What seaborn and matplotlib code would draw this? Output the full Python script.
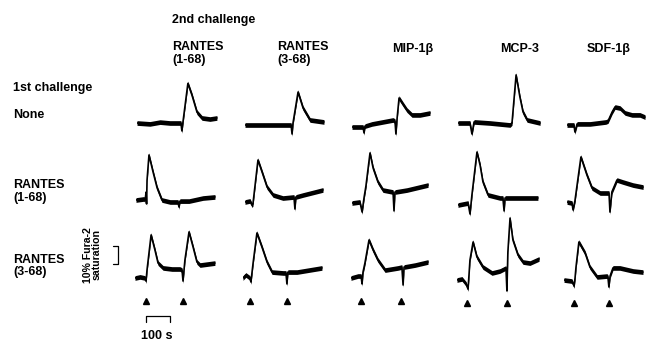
import numpy as np
import pandas as pd
import matplotlib
matplotlib.use("Agg")
import matplotlib.pyplot as plt
import seaborn as sns

sns.set_theme(style="white")
plt.rcParams['font.family'] = ['Liberation Sans', 'DejaVu Sans']

# ---------------- labels ----------------
first_challenge = ["None", "RANTES\n(1-68)", "RANTES\n(3-68)"]
second_challenge = ["RANTES\n(1-68)", "RANTES\n(3-68)", "MIP-1β", "MCP-3", "SDF-1β"]

# ---------------- traces: time (s) / signal (% Fura-2 saturation above rest) ----------------
# 1st challenge: None
t_none_c1 = [0, 54, 96, 137, 183, 187, 192, 212, 229, 250, 271, 304, 333]
v_none_c1 = [0, -0.5, 0.5, 0, 0, -4.4, 1.1, 22, 15.5, 6, 2.8, 2.2, 2.8]
t_none_c2 = [0, 104, 192, 196, 200, 221, 242, 271, 329]
v_none_c2 = [0, 0, 0, -5, 1.1, 18.3, 9.4, 2.8, 1.7]
t_none_c3 = [0, 46, 50, 54, 83, 171, 179, 183, 188, 196, 212, 229, 250, 283, 325]
v_none_c3 = [0, 0, -3.3, 0.5, 1.7, 3.9, 3.3, -3.9, 5, 16.1, 12.8, 9.4, 6.7, 6.7, 7.8]
t_none_c4 = [0, 50, 58, 67, 133, 217, 225, 242, 258, 271, 288, 342]
v_none_c4 = [0, 0, -6.1, 0.6, 0, -1.1, 0, 26.7, 14.4, 6.1, 1.7, 0]
t_none_c5 = [0, 29, 33, 42, 96, 162, 171, 188, 200, 221, 242, 271, 304, 325]
v_none_c5 = [0, 0, -3.9, 0.6, 0.6, 1.7, 2.2, 7.2, 10, 9.4, 6.7, 5.6, 5.6, 4.4]

# 1st challenge: RANTES (1-68)
t_r168_c1 = [0, 33, 38, 42, 44, 46, 54, 71, 88, 108, 142, 175, 179, 183, 221, 279, 329]
v_r168_c1 = [0, 0.6, 0, 4.4, -2.2, 11, 25, 15.6, 6.7, 0, -1.1, -1.1, -3.9, -0.6, -0.6, 1.1, 1.7]
t_r168_c2 = [0, 21, 29, 33, 54, 71, 92, 117, 158, 204, 208, 212, 242, 325]
v_r168_c2 = [0, 0.6, -1.7, -1.1, 23.3, 16.7, 8.3, 3.9, 2.2, 2.8, -3.9, 2.8, 3.9, 6.7]
t_r168_c3 = [0, 33, 42, 50, 58, 75, 88, 108, 129, 171, 175, 179, 229, 317]
v_r168_c3 = [0, 0.6, -5, 2.8, 9.4, 27.8, 19.4, 11.7, 7.2, 6.1, -4.4, 6.1, 7.2, 10]
t_r168_c4 = [0, 42, 50, 58, 79, 92, 104, 125, 175, 187, 192, 196, 258, 333]
v_r168_c4 = [0, 1.1, -5, 5.6, 29.4, 22.2, 12.8, 5.6, 3.9, 3.9, -3.3, 3.9, 3.9, 3.9]
t_r168_c5 = [0, 21, 25, 33, 42, 58, 83, 104, 138, 175, 179, 187, 208, 233, 275, 317]
v_r168_c5 = [0, -0.6, -4.4, 0.6, 9.4, 25, 15, 7.8, 5, 5, -5.6, 5.6, 12.2, 11.1, 9.4, 8.3]

# 1st challenge: RANTES (3-68)
t_r368_c1 = [0, 21, 42, 46, 50, 67, 83, 96, 117, 154, 187, 196, 200, 208, 225, 242, 258, 271, 333]
v_r368_c1 = [0, 0.6, 0, -1.7, 4.4, 23.9, 15.6, 8.3, 5.6, 5, 5, 4.4, -1.7, 10, 25.6, 17.2, 8.9, 7.2, 8.3]
t_r368_c2 = [0, 12, 29, 33, 42, 58, 79, 100, 121, 167, 179, 183, 187, 225, 329]
v_r368_c2 = [0, 1.7, 0, -2.2, 8.3, 25, 17.2, 8.9, 3.3, 2.8, 2.8, -3.3, 3.3, 3.3, 5.6]
t_r368_c3 = [0, 29, 42, 46, 50, 58, 75, 92, 112, 142, 196, 212, 217, 221, 267, 321]
v_r368_c3 = [0, 1.1, 1.1, -3.3, 3.3, 8.3, 21.1, 15.6, 10, 4.4, 5.6, 6.1, -3.9, 6.1, 7.2, 8.9]
t_r368_c4 = [0, 21, 38, 46, 50, 54, 67, 83, 108, 146, 179, 204, 208, 212, 221, 233, 254, 275, 304, 342]
v_r368_c4 = [0, 0.6, -2.2, -5, 2.8, 11.1, 21.1, 12.8, 7.2, 3.9, 5, 6.7, -6.1, 15.6, 34.4, 22.2, 13.9, 10, 9.4, 11.7]
t_r368_c5 = [0, 33, 42, 46, 50, 62, 88, 108, 138, 179, 183, 187, 192, 204, 233, 288, 329]
v_r368_c5 = [0, -0.6, -3.3, 1.1, 7.2, 21.1, 15, 7.2, 1.7, 2.2, 1.7, -3.9, 2.2, 6.7, 6.7, 5, 4.4]

# injection times (s) marked by arrowheads under the bottom row
inj1_times = [46, 29, 42, 42, 42]
inj2_times = [200, 183, 208, 208, 188]

trace_times = [[t_none_c1, t_none_c2, t_none_c3, t_none_c4, t_none_c5],
               [t_r168_c1, t_r168_c2, t_r168_c3, t_r168_c4, t_r168_c5],
               [t_r368_c1, t_r368_c2, t_r368_c3, t_r368_c4, t_r368_c5]]
trace_vals = [[v_none_c1, v_none_c2, v_none_c3, v_none_c4, v_none_c5],
              [v_r168_c1, v_r168_c2, v_r168_c3, v_r168_c4, v_r168_c5],
              [v_r368_c1, v_r368_c2, v_r368_c3, v_r368_c4, v_r368_c5]]

rows = []
for r, fc in enumerate(first_challenge):
    for c, sc in enumerate(second_challenge):
        for t, v in zip(trace_times[r][c], trace_vals[r][c]):
            rows.append({"first": r, "second": c, "time": t, "signal": v})
df = pd.DataFrame(rows)

# ---------------- layout (pixels) ----------------
W, H = 647, 341
fig = plt.figure(figsize=(W / 100, H / 100), dpi=100)
PX_PER_S = 0.24
PX_PER_PCT = 1.8
XMAX, YMIN, YMAX = 350, -15, 40
X0 = [[137, 245, 352, 458, 567],
      [136, 245, 352, 458, 567],
      [135, 243, 351, 457, 564]]
Y0 = [[123, 125, 127, 123, 125],
      [200, 202, 203, 205, 202],
      [278, 278, 278, 280, 280]]
NOISE = 1.3  # half-width of the recording noise band (%)

axes = {}
for r in range(3):
    for c in range(5):
        x0, y0 = X0[r][c], Y0[r][c]
        w = XMAX * PX_PER_S
        h = (YMAX - YMIN) * PX_PER_PCT
        top = y0 - YMAX * PX_PER_PCT
        ax = fig.add_axes([x0 / W, 1 - (top + h) / H, w / W, h / H])
        ax.set_xlim(0, XMAX)
        ax.set_ylim(YMIN, YMAX)
        ax.set_axis_off()
        sub = df[(df["first"] == r) & (df["second"] == c)]
        ax.fill_between(sub["time"], sub["signal"] - NOISE, sub["signal"] + NOISE,
                        color="black", lw=0)
        sns.lineplot(data=sub, x="time", y="signal", ax=ax, color="black",
                     linewidth=1.2, estimator=None, sort=False)
        axes[(r, c)] = ax
        if r == 2:
            ax.plot([inj1_times[c], inj2_times[c]], [-13, -13], ls="none",
                    marker="^", ms=5, color="black", clip_on=False)

# scale bars (in the bottom-left trace's data units)
axs = axes[(2, 0)]
axs.plot([46, 46, 146, 146], [-24.4, -21.1, -21.1, -24.4], color="black",
         lw=0.9, clip_on=False)
axs.plot([-92, -71, -71, -92], [17.8, 17.8, 7.8, 7.8], color="black",
         lw=0.9, clip_on=False)

FS = 9.0
def ftext(x, y, s, **kw):
    kw.setdefault("fontsize", FS)
    kw.setdefault("fontweight", "bold")
    fig.text(x / W, 1 - y / H, s, color="black", **kw)

def multiline(x, y, s, step=12.5):
    for i, line in enumerate(s.split("\n")):
        ftext(x, y + i * step, line, ha="left", va="baseline")

ftext(172, 23, "2nd challenge", ha="left", va="baseline")
ftext(13, 91, "1st challenge", ha="left", va="baseline")

col_x = [172, 277, 392, 500, 587]
for c, lab in enumerate(second_challenge):
    if "\n" in lab:
        multiline(col_x[c], 50, lab)
    else:
        ftext(col_x[c], 52, lab, ha="left", va="baseline")

row_y = [118, 188, 263]
for r, lab in enumerate(first_challenge):
    multiline(13, row_y[r], lab)

ftext(91, 255, "10% Fura-2", rotation=90, rotation_mode="anchor",
      ha="center", va="baseline", fontsize=7.6)
ftext(100, 255, "saturation", rotation=90, rotation_mode="anchor",
      ha="center", va="baseline", fontsize=7.6)
ftext(157, 339, "100 s", ha="center", va="baseline")

fig.savefig("out.png", dpi=100)
